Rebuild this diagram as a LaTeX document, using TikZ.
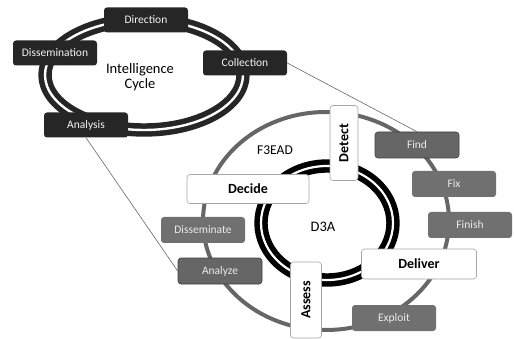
\documentclass[tikz,border=0pt]{standalone}
\usepackage{fontspec}
\setmainfont{Carlito}
\begin{document}
\begin{tikzpicture}[x=1pt,y=-1pt,
  cyclebox/.style={fill=black!85, text=white!96!black, rounded corners=3pt,
    minimum width=84pt, minimum height=25pt, inner sep=0pt, font=\fontsize{11.5}{13}\selectfont},
  stepbox/.style={fill=black!56, text=white!92!black, rounded corners=3pt,
    minimum width=84pt, minimum height=26pt, inner sep=0pt, font=\fontsize{11.5}{13}\selectfont},
  linkbox/.style={stepbox, fill=black!60, draw=black!75, line width=0.6pt},
  phasebox/.style={fill=white, draw=black!35, line width=0.6pt, rounded corners=3pt,
    inner sep=0pt, font=\bfseries\fontsize{14}{16}\selectfont},
  link/.style={draw=black!60, line width=0.6pt}
]
\useasboundingbox (0,0) rectangle (514,339);

% Intelligence cycle ring
\draw[line width=5.5pt, double distance=2.4pt, double=white, draw=black!85]
  (144,75) ellipse [x radius=99, y radius=55];
\node[align=center, font=\fontsize{14.5}{15}\selectfont] (ic) at (140,77) {Intelligence\\Cycle};

% F3EAD ring
\draw[line width=4pt, draw=black!60] (326,221) ellipse [x radius=123, y radius=109];
% D3A ring
\draw[line width=5.6pt, double distance=2.2pt, double=white, draw=black]
  (327,223) ellipse [x radius=66, y radius=57];

\node[font=\fontsize{13.5}{15}\selectfont] (f3ead) at (275,150) {F3EAD};
\node[font=\fontsize{14.5}{16}\selectfont] (d3a) at (323,227) {D3A};

% Intelligence cycle steps
\node[cyclebox] (direction) at (146,20) {Direction};
\node[cyclebox] (dissemination) at (55,53) {Dissemination};
\node[cyclebox] (collection) at (245,63) {Collection};
\node[cyclebox] (analysis) at (86,125) {Analysis};

% F3EAD steps
\node[linkbox] (find) at (417,145) {Find};
\node[stepbox] (fix) at (454,184) {Fix};
\node[stepbox] (finish) at (470,225) {Finish};
\node[stepbox] (exploit) at (394,318) {Exploit};
\node[stepbox] (disseminate) at (203,230) {Disseminate};
\node[linkbox] (analyze) at (220,271) {Analyze};

% links between the two cycles
\draw[link] (collection.east) -- (find.north);
\draw[link] (analysis.south) -- (analyze.west);

% D3A phases
\node[phasebox, minimum width=122pt, minimum height=29pt] (decide) at (248,189) {Decide};
\node[phasebox, minimum width=115pt, minimum height=30pt] (deliver) at (419,264) {Deliver};
\node[phasebox, minimum width=75pt, minimum height=28pt, rotate=90] (detect) at (344,143) {Detect};
\node[phasebox, minimum width=76pt, minimum height=31pt, rotate=90] (assess) at (306,300) {Assess};
\end{tikzpicture}
\end{document}
